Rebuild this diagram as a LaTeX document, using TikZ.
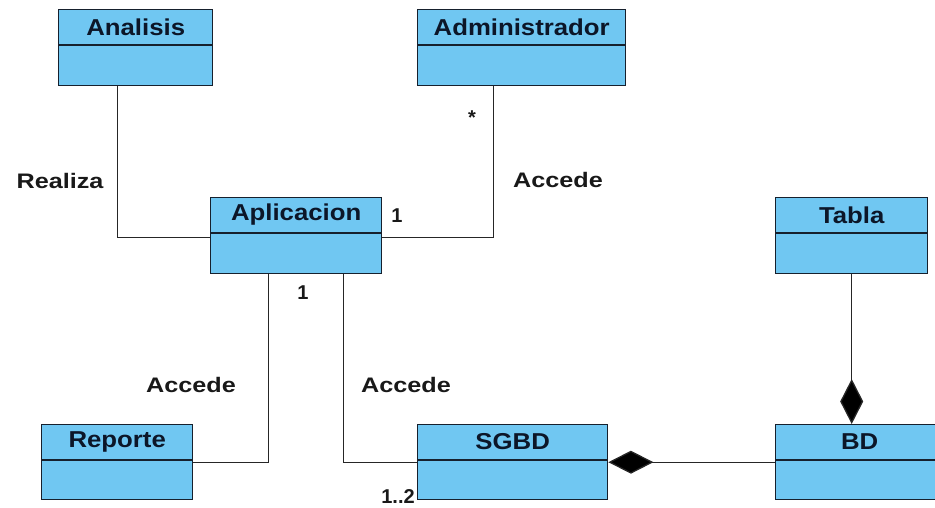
\documentclass[tikz,border=0pt]{standalone}
\usepackage{fontspec}
\setmainfont{Liberation Sans}
\newfontfamily\titlefont{Liberation Sans}[FakeStretch=1.12]
\newfontfamily\labelfont{Liberation Sans}[FakeStretch=1.2]
\usetikzlibrary{arrows.meta}
\definecolor{classfill}{RGB}{112,199,242}
\definecolor{classline}{RGB}{22,32,45}
\definecolor{classtext}{RGB}{12,22,40}
\tikzset{
  classbox/.style={draw=classline, fill=classfill, line width=1.4pt, inner sep=0pt, anchor=north west},
  classname/.style={font=\titlefont\bfseries\fontsize{23}{26}\selectfont, text=classtext, inner sep=0pt},
  assoc/.style={draw=black!85, line width=1.3pt},
  compo/.style={assoc, {Diamond[length=45pt,width=23pt,fill=black]}-},
  rolelabel/.style={font=\labelfont\bfseries\fontsize{21}{24}\selectfont, text=black!90, inner sep=0pt},
  multlabel/.style={font=\bfseries\fontsize{20}{24}\selectfont, text=black!90, inner sep=0pt}
}
% class with name compartment (36pt) and empty attribute compartment
\newcommand{\umlclass}[6]{%
  \node[classbox, minimum width=#4pt, minimum height=#5pt] (#1) at (#2,#3) {};
  \draw[classline, line width=1.4pt] ([yshift=-36pt]#1.north west) -- ([yshift=-36pt]#1.north east);
  \node[classname] at ([yshift=-18pt]#1.north) {#6};
}
\begin{document}
\begin{tikzpicture}[x=1pt, y=-1pt]
  \clip (0,0) rectangle (935,508);
  \fill[white] (0,0) rectangle (935,508);

  \umlclass{ana}{58}{9}{154}{76}{Analisis}
  \umlclass{adm}{417}{9}{208}{76}{Administrador}
  \umlclass{apl}{210}{197}{171}{76}{Aplicacion}
  \umlclass{tab}{775}{197}{152}{76}{Tabla}
  \umlclass{rep}{41}{424}{151}{75}{Reporte}
  \umlclass{sgbd}{417}{424}{190}{75}{SGBD}
  \umlclass{bd}{775}{424}{168}{75}{BD}

  % associations
  \draw[assoc] ([xshift=-18pt]ana.south) |- ([yshift=-2pt]apl.west);
  \draw[assoc] ([yshift=-2pt]apl.east) -| ([xshift=-28pt]adm.south);
  \draw[assoc] ([xshift=-27.5pt]apl.south) |- (rep.east);
  \draw[assoc] ([xshift=47.5pt]apl.south) |- (sgbd.west);

  % compositions
  \draw[compo] (sgbd.east) -- (bd.west);
  \coordinate (bdtop) at (tab.south |- bd.north);
  \draw[compo] (bdtop) -- (tab.south);

  % role names
  \node[rolelabel] (lrealiza) at (60,181) {Realiza};
  \node[rolelabel] (lacc1) at (558,180) {Accede};
  \node[rolelabel] (lacc2) at (191,385) {Accede};
  \node[rolelabel] (lacc3) at (406,385) {Accede};

  % multiplicities
  \node[multlabel] (m1) at (472,118) {*};
  \node[multlabel] (m2) at (397,216) {1};
  \node[multlabel] (m3) at (303,293) {1};
  \node[multlabel] (m4) at (398,497) {1..2};
\end{tikzpicture}
\end{document}
